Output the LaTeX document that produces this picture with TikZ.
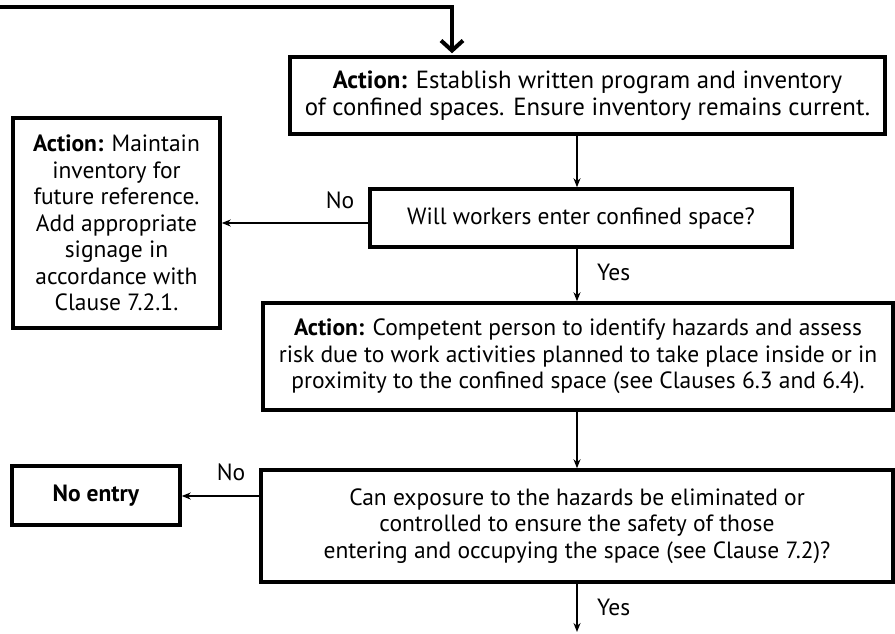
\documentclass[tikz,border=0pt]{standalone}
\usepackage{fontspec}
\setmainfont{PT Sans}
\usetikzlibrary{arrows.meta}

\begin{document}
\begin{tikzpicture}[x=1pt,y=-1pt,
  box/.style={draw, line width=3.5pt, align=center, inner sep=0pt, font=\fontsize{23.5}{26.5}\selectfont},
  flow/.style={line width=1.5pt, -{Stealth[length=9pt,width=7pt]}},
  lbl/.style={font=\fontsize{23.5}{26.5}\selectfont, inner sep=0pt}]
\useasboundingbox (0,0) rectangle (895,634);
\coordinate (start) at (0,7);
\coordinate (drop) at (452,0);
\coordinate (spine) at (577,0);
\coordinate (out) at (577,632);
\node [box, minimum width=595pt, minimum height=77pt, font=\fontsize{24.8}{27}\selectfont] (establish) at (587.5,95.5)
  {\textbf{Action:} Establish written program and inventory\\ of confined spaces. Ensure inventory remains current.};
\node [box, minimum width=422pt, minimum height=58pt] (enter) at (581,218)
  {Will workers enter confined space?};
\node [box, minimum width=207pt, minimum height=210pt] (maintain) at (116.5,223)
  {\textbf{Action:} Maintain\\ inventory for\\ future reference.\\ Add appropriate\\ signage in\\ accordance with\\ Clause 7.2.1.};
\node [box, minimum width=630pt, minimum height=107pt] (assess) at (578,356.5)
  {\textbf{Action:} Competent person to identify hazards and assess\\ risk due to work activities planned to take place inside or in\\ proximity to the confined space (see Clauses 6.3 and 6.4).};
\node [box, minimum width=632pt, minimum height=112pt] (control) at (577,526)
  {Can exposure to the hazards be eliminated or\\ controlled to ensure the safety of those\\ entering and occupying the space (see Clause 7.2)?};
\node [box, minimum width=168pt, minimum height=59pt] (noentry) at (96,495.5)
  {\textbf{No entry}};
\draw [line width=4pt, -{Straight Barb[length=10pt,width=22pt]}] (start) -| ([yshift=2pt]establish.north -| drop);
\draw [flow] (establish.south -| spine) -- (enter.north -| spine);
\draw [flow] (enter.west |- maintain.east) -- (maintain.east);
\draw [flow] (enter.south -| spine) -- (assess.north -| spine);
\draw [flow] (assess.south -| spine) -- (control.north -| spine);
\draw [flow] (control.west |- 0,496) -- (noentry.east |- 0,496);
\draw [flow] (control.south -| spine) -- (out);
\node [lbl] (no1) at (340,200) {No};
\node [lbl, anchor=west] (yes1) at (597,272) {Yes};
\node [lbl] (no2) at (231,472) {No};
\node [lbl, anchor=west] (yes2) at (597,607) {Yes};
\end{tikzpicture}
\end{document}
